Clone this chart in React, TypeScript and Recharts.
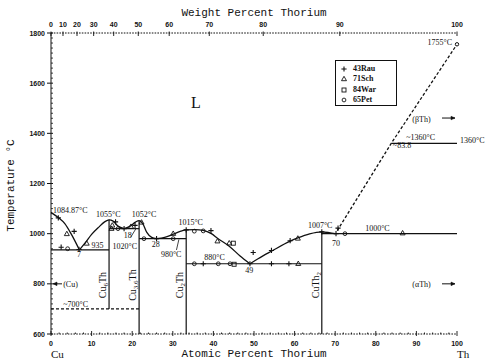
import React from "react";
import {
  ComposedChart,
  Line,
  Scatter,
  XAxis,
  YAxis,
  ReferenceLine,
  ReferenceDot,
  Legend,
} from "recharts";

// x = atomic percent Th, t = temperature in °C

// liquidus branches (split at the eutectics, joined over the congruent maxima)
const LIQ_CU = [[0, 1085], [1.7, 1065], [3.4, 1040], [5.1, 995], [7, 935]];
const LIQ_CU6TH = [[7, 935], [8.5, 965], [10, 997], [11.7, 1025], [13.2, 1047], [14.3, 1055], [15.3, 1050], [16.5, 1030], [18, 1020]];
const LIQ_CU36TH = [[18, 1020], [19.5, 1030], [20.8, 1046], [21.7, 1052], [22.6, 1040], [23.6, 1005], [24.8, 985], [26, 980]];
const LIQ_CU2TH = [[26, 980], [28, 985], [30.1, 998], [32, 1010], [33.3, 1015], [35.5, 1016], [37.5, 1013], [39.5, 1000], [41, 982], [43.9, 950], [46.5, 912], [49, 880]];
const LIQ_CUTH2 = [[49, 880], [51, 900], [54.3, 930], [58.9, 970], [60.8, 983], [63.7, 999], [66.7, 1007], [68.5, 1004], [70, 1000]];
const LIQ_TH = [[70.5, 1012], [83.8, 1360], [100, 1755]]; // dashed

const TH_MELT = 1755;

// invariant (horizontal) lines
const ISOTHERMS = [
  { t: 935, from: 0, to: 14.3 },
  { t: 1020, from: 14.3, to: 21.7 },
  { t: 980, from: 21.7, to: 33.3 },
  { t: 880, from: 33.3, to: 66.7 },
  { t: 1000, from: 66.7, to: 100 },
  { t: 1360, from: 83.8, to: 100 },
];
const DASHED_ISOTHERMS = [{ t: 700, from: 0, to: 21.7 }];

// compounds (vertical lines)
const COMPOUNDS = [
  { x: 14.3, from: 700, to: 1055 },
  { x: 21.7, from: 600, to: 1052 },
  { x: 33.3, from: 600, to: 1015 },
  { x: 66.7, from: 600, to: 1007 },
];
const COMPOUND_LABELS = [
  { parts: ["Cu", "6", "Th", ""], x: 13.5, t: 795 },
  { parts: ["Cu", "3.6", "Th", ""], x: 21.0, t: 795 },
  { parts: ["Cu", "2", "Th", ""], x: 32.5, t: 795 },
  { parts: ["CuTh", "2", "", ""], x: 66.1, t: 795 },
];

// experimental points
const RAU = [[1.8, 1063], [5.7, 1009], [2.5, 946], [6.9, 937], [15.9, 1047], [18, 1020], [20.7, 1033], [26, 980], [33.3, 1015], [39.4, 1012], [37.5, 880], [49, 880], [49.8, 925], [54.3, 933], [58.9, 972], [54.3, 880], [58.6, 880], [66.7, 1007], [70.2, 1000], [70.7, 1022]];
const SCH = [[3.9, 999], [8.8, 961], [15.1, 1033], [14.9, 1020], [19.7, 1028], [22.3, 1045], [30.1, 1000], [41, 970], [43.9, 962], [60.8, 981], [60.9, 880], [86.6, 1002]];
const WAR = [[44.9, 962], [45.1, 878]];
const PET = [[4.1, 940], [16.5, 1020], [22.9, 980], [30.1, 980], [35.3, 1010], [37.5, 1011], [35.3, 880], [41.2, 880], [44.1, 880], [72.4, 1000]];

const SOURCES = [
  { name: "43Rau", kind: "plus", pts: RAU },
  { name: "71Sch", kind: "tri", pts: SCH },
  { name: "84War", kind: "square", pts: WAR },
  { name: "65Pet", kind: "circle", pts: PET },
];

// text annotations (baseline position in data units)
const NOTES = [
  { text: "1084.87°C", x: 0.5, t: 1082, anchor: "start" },
  { text: "1055°C", x: 14.1, t: 1068, anchor: "middle" },
  { text: "1052°C", x: 22.9, t: 1068, anchor: "middle" },
  { text: "1015°C", x: 34.4, t: 1034, anchor: "middle" },
  { text: "1007°C", x: 66.3, t: 1021, anchor: "middle" },
  { text: "1000°C", x: 80.4, t: 1010, anchor: "middle" },
  { text: "1755°C", x: 98.8, t: 1752, anchor: "end" },
  { text: "~1360°C", x: 87.5, t: 1374, anchor: "start" },
  { text: "~83.8", x: 84.2, t: 1341, anchor: "start" },
  { text: "1360°C", x: 100, t: 1361, anchor: "start", dx: 3 },
  { text: "935", x: 10, t: 944, anchor: "start" },
  { text: "7", x: 6.9, t: 907, anchor: "middle" },
  { text: "18", x: 18.9, t: 981, anchor: "middle" },
  { text: "1020°C", x: 18.2, t: 939, anchor: "middle" },
  { text: "28", x: 25.8, t: 946, anchor: "middle" },
  { text: "980°C", x: 29.6, t: 908, anchor: "middle" },
  { text: "880°C", x: 40.3, t: 895, anchor: "middle" },
  { text: "49", x: 48.8, t: 844, anchor: "middle" },
  { text: "70", x: 70.2, t: 952, anchor: "middle" },
  { text: "(βTh)", x: 89, t: 1446, anchor: "start" },
  { text: "(αTh)", x: 89, t: 788, anchor: "start" },
  { text: "(Cu)", x: 3, t: 786, anchor: "start" },
  { text: "~700°C", x: 3, t: 709, anchor: "start" },
  { text: "L", x: 35.7, t: 1500, anchor: "middle", size: 16 },
];

const ARROWS = [
  { x: 100, t: 1461, dir: 1 },
  { x: 100, t: 800, dir: 1 },
  { x: 0, t: 800, dir: -1 },
];

const POINTERS = [
  { x1: 19.6, t1: 985, x2: 21.0, t2: 1022 },
  { x1: 30.9, t1: 935, x2: 31.5, t2: 977 },
];

const Y_LABELS = [600, 800, 1000, 1200, 1400, 1600, 1800];
const X_LABELS = [0, 10, 20, 30, 40, 50, 60, 70, 80, 90, 100];
const WT_LABELS = [0, 10, 20, 30, 40, 50, 60, 70, 80, 90, 100];

const Y_MINOR: number[] = [];
for (let v = 600; v <= 1800; v += 20) Y_MINOR.push(v);
const X_MINOR: number[] = [];
for (let v = 0; v <= 100; v += 2) X_MINOR.push(v);
const Y_RIGHT: number[] = [];
for (let v = 600; v <= 1800; v += 100) Y_RIGHT.push(v);

const M_CU = 63.546;
const M_TH = 232.04;
const wtToAt = (w: number) => ((w / M_TH) / (w / M_TH + (100 - w) / M_CU)) * 100;
const atToWt = (a: number) => ((a * M_TH) / (a * M_TH + (100 - a) * M_CU)) * 100;

const toPts = (a: number[][]) => a.map(([x, t]) => ({ x, t }));

const INK = "#111";
const SERIF = "'Liberation Serif', serif";
const SANS = "'Liberation Sans', sans-serif";
const MONO = "'Liberation Mono', monospace";

function Glyph({ kind, cx, cy }: { kind: string; cx: number; cy: number }) {
  if (kind === "plus")
    return <path d={`M${cx - 2.6},${cy}h5.2M${cx},${cy - 2.6}v5.2`} stroke={INK} strokeWidth={1.1} />;
  if (kind === "tri")
    return (
      <path
        d={`M${cx},${cy - 2.7}L${cx + 2.5},${cy + 1.7}L${cx - 2.5},${cy + 1.7}Z`}
        fill="none"
        stroke={INK}
        strokeWidth={0.9}
      />
    );
  if (kind === "square")
    return <rect x={cx - 2} y={cy - 2} width={4} height={4} fill="none" stroke={INK} strokeWidth={0.9} />;
  return <circle cx={cx} cy={cy} r={1.9} fill="none" stroke={INK} strokeWidth={0.9} />;
}

const markerShape = (kind: string) => (p: any) => <Glyph kind={kind} cx={p.cx} cy={p.cy} />;

const NoteShape = (p: any) => {
  const n = p.payload;
  return (
    <text
      x={p.cx + (n.dx ?? 0)}
      y={p.cy}
      textAnchor={n.anchor}
      fontFamily={SERIF}
      fontSize={n.size ?? 8}
      fill={INK}
    >
      {n.text}
    </text>
  );
};

const CompoundShape = (p: any) => {
  const [a, sa, b, sb] = p.payload.parts;
  return (
    <text
      x={p.cx}
      y={p.cy}
      transform={`rotate(-90 ${p.cx} ${p.cy})`}
      textAnchor="middle"
      fontFamily={SERIF}
      fontSize={10}
      fill={INK}
    >
      {a}
      <tspan dy={2} fontSize={7}>{sa}</tspan>
      <tspan dy={-2}>{b}</tspan>
      {sb ? <tspan dy={2} fontSize={7}>{sb}</tspan> : null}
    </text>
  );
};

const ArrowShape = (p: any) => {
  const d = p.payload.dir;
  const tip = p.cx - d * 2;
  const tail = p.cx - d * (d > 0 ? 15 : 11);
  return (
    <g stroke={INK} fill={INK}>
      <line x1={tail} x2={tip} y1={p.cy} y2={p.cy} strokeWidth={1} />
      <path d={`M${tip},${p.cy}L${tip - d * 4},${p.cy - 1.8}L${tip - d * 4},${p.cy + 1.8}Z`} strokeWidth={0.5} />
    </g>
  );
};

const Hidden = () => <g />;

const LeftTick = (p: any) => {
  const { x, y, payload } = p;
  const major = Y_LABELS.includes(payload.value);
  return (
    <g>
      {major ? (
        <line x1={x - 4} x2={x + 2} y1={y} y2={y} stroke={INK} strokeWidth={1} />
      ) : (
        <line x1={x} x2={x + 2} y1={y} y2={y} stroke={INK} strokeWidth={0.8} />
      )}
      {major && (
        <text x={x - 6} y={y + 2.5} textAnchor="end" fontFamily={SANS} fontWeight={700} fontSize={7} fill={INK}>
          {payload.value}
        </text>
      )}
    </g>
  );
};

const BottomTick = (p: any) => {
  const { x, y, payload } = p;
  const major = X_LABELS.includes(payload.value);
  return (
    <g>
      <line x1={x} x2={x} y1={y - (major ? 3 : 1.5)} y2={y + (major ? 2 : 0)} stroke={INK} strokeWidth={0.9} />
      {major && (
        <text x={x} y={y + 11.5} textAnchor="middle" fontFamily={SANS} fontWeight={700} fontSize={7} fill={INK}>
          {payload.value}
        </text>
      )}
    </g>
  );
};

const TopTick = (p: any) => {
  const { x, y, payload } = p;
  return (
    <g>
      <line x1={x} x2={x} y1={y - 1.5} y2={y + 3} stroke={INK} strokeWidth={0.9} />
      <text x={x} y={y - 6} textAnchor="middle" fontFamily={SANS} fontWeight={700} fontSize={7} fill={INK}>
        {Math.round(atToWt(payload.value))}
      </text>
    </g>
  );
};

const RightTick = (p: any) => {
  const { x, y } = p;
  return <line x1={x - 3} x2={x} y1={y} y2={y} stroke={INK} strokeWidth={0.9} />;
};

const TopTitle = (p: any) => {
  const { x, y, width } = p.viewBox;
  return (
    <text x={x + width / 2} y={y + 3} textAnchor="middle" fontFamily={MONO} fontSize={11} fill={INK}>
      Weight Percent Thorium
    </text>
  );
};

const BottomTitle = (p: any) => {
  const { x, y, width } = p.viewBox;
  return (
    <g fill={INK}>
      <text x={x + width / 2} y={y + 23} textAnchor="middle" fontFamily={MONO} fontSize={11}>
        Atomic Percent Thorium
      </text>
      <text x={x} y={y + 24} fontFamily={SERIF} fontSize={11}>
        Cu
      </text>
      <text x={x + width} y={y + 24} fontFamily={SERIF} fontSize={11}>
        Th
      </text>
    </g>
  );
};

const LeftTitle = (p: any) => {
  const { y, height } = p.viewBox;
  const cy = y + height / 2 + 2;
  return (
    <text
      x={13.5}
      y={cy}
      transform={`rotate(-90 13.5 ${cy})`}
      textAnchor="middle"
      fontFamily={MONO}
      fontSize={11}
      fill={INK}
    >
      Temperature °C
    </text>
  );
};

const LegendBox = () => (
  <div
    style={{
      boxSizing: "border-box",
      width: 62,
      height: 46,
      border: `1px solid ${INK}`,
      padding: "3px 0 0 4px",
      background: "#fff",
      fontFamily: SERIF,
      fontWeight: 700,
      fontSize: 8,
      lineHeight: "10.3px",
      color: INK,
    }}
  >
    {SOURCES.map((s) => (
      <div key={s.name} style={{ display: "flex", alignItems: "center", height: 10.3 }}>
        <svg width={10} height={8} style={{ display: "block" }}>
          <Glyph kind={s.kind} cx={4} cy={4} />
        </svg>
        <span style={{ marginLeft: 3 }}>{s.name}</span>
      </div>
    ))}
  </div>
);

const curve = (pts: number[][], key: string, dashed = false) => (
  <Line
    key={key}
    data={toPts(pts)}
    dataKey="t"
    type={dashed ? "linear" : "monotone"}
    stroke={INK}
    strokeWidth={1.3}
    strokeDasharray={dashed ? "3 2" : undefined}
    dot={false}
    activeDot={false}
    legendType="none"
    isAnimationActive={false}
  />
);

export default function App() {
  return (
    <div style={{ position: "absolute", left: 0, top: 0, width: 487, height: 361, background: "#fff" }}>
      <ComposedChart width={487} height={361} margin={{ top: 13, right: 30, bottom: 0, left: 11 }}>
        <XAxis
          dataKey="x"
          type="number"
          domain={[0, 100]}
          ticks={X_MINOR}
          interval={0}
          height={27}
          tickSize={0}
          tickMargin={0}
          tickLine={false}
          tick={BottomTick}
          axisLine={{ stroke: INK, strokeDasharray: "1.6 1.2" }}
          label={<BottomTitle />}
        />
        <XAxis
          xAxisId="top"
          orientation="top"
          dataKey="x"
          type="number"
          domain={[0, 100]}
          ticks={WT_LABELS.map(wtToAt)}
          interval={0}
          height={20}
          tickSize={0}
          tickMargin={0}
          tickLine={false}
          tick={TopTick}
          axisLine={{ stroke: INK, strokeDasharray: "1.6 1.2" }}
          label={<TopTitle />}
        />
        <YAxis
          type="number"
          domain={[600, 1800]}
          ticks={Y_MINOR}
          interval={0}
          width={40}
          tickSize={0}
          tickMargin={0}
          tickLine={false}
          tick={LeftTick}
          axisLine={{ stroke: INK }}
          label={<LeftTitle />}
        />
        <YAxis
          yAxisId="right"
          orientation="right"
          type="number"
          domain={[600, 1800]}
          ticks={Y_RIGHT}
          interval={0}
          width={0}
          tickSize={0}
          tickMargin={0}
          tickLine={false}
          tick={RightTick}
          axisLine={{ stroke: INK, strokeWidth: 1.2 }}
        />

        {ISOTHERMS.map((h, i) => (
          <ReferenceLine
            key={`iso${i}`}
            segment={[{ x: h.from, y: h.t }, { x: h.to, y: h.t }]}
            stroke={INK}
            strokeWidth={1.2}
          />
        ))}
        {DASHED_ISOTHERMS.map((h, i) => (
          <ReferenceLine
            key={`diso${i}`}
            segment={[{ x: h.from, y: h.t }, { x: h.to, y: h.t }]}
            stroke={INK}
            strokeWidth={1.1}
            strokeDasharray="3 2"
          />
        ))}
        {COMPOUNDS.map((c, i) => (
          <ReferenceLine
            key={`cmp${i}`}
            segment={[{ x: c.x, y: c.from }, { x: c.x, y: c.to }]}
            stroke={INK}
            strokeWidth={1.2}
          />
        ))}
        {POINTERS.map((q, i) => (
          <ReferenceLine
            key={`ptr${i}`}
            segment={[{ x: q.x1, y: q.t1 }, { x: q.x2, y: q.t2 }]}
            stroke={INK}
            strokeWidth={0.8}
          />
        ))}

        {curve(LIQ_CU, "l1")}
        {curve(LIQ_CU6TH, "l2")}
        {curve(LIQ_CU36TH, "l3")}
        {curve(LIQ_CU2TH, "l4")}
        {curve(LIQ_CUTH2, "l5")}
        {curve(LIQ_TH, "l6", true)}

        {/* binds the weight-% axis and the right axis to data so their ticks render */}
        <Scatter
          xAxisId="top"
          yAxisId="right"
          data={toPts(LIQ_TH)}
          dataKey="t"
          shape={Hidden}
          legendType="none"
          isAnimationActive={false}
        />

        <ReferenceDot x={100} y={TH_MELT} r={1.7} fill="#fff" stroke={INK} strokeWidth={1} ifOverflow="visible" />

        {SOURCES.map((s) => (
          <Scatter
            key={s.name}
            name={s.name}
            data={toPts(s.pts)}
            dataKey="t"
            shape={markerShape(s.kind)}
            isAnimationActive={false}
          />
        ))}

        <Scatter data={NOTES} dataKey="t" shape={NoteShape} legendType="none" isAnimationActive={false} />
        <Scatter data={COMPOUND_LABELS} dataKey="t" shape={CompoundShape} legendType="none" isAnimationActive={false} />
        <Scatter data={ARROWS} dataKey="t" shape={ArrowShape} legendType="none" isAnimationActive={false} />

        <Legend
          content={LegendBox}
          layout="vertical"
          align="center"
          verticalAlign="middle"
          wrapperStyle={{ left: 335, top: 60, width: 62, height: 46 }}
        />
      </ComposedChart>
    </div>
  );
}
